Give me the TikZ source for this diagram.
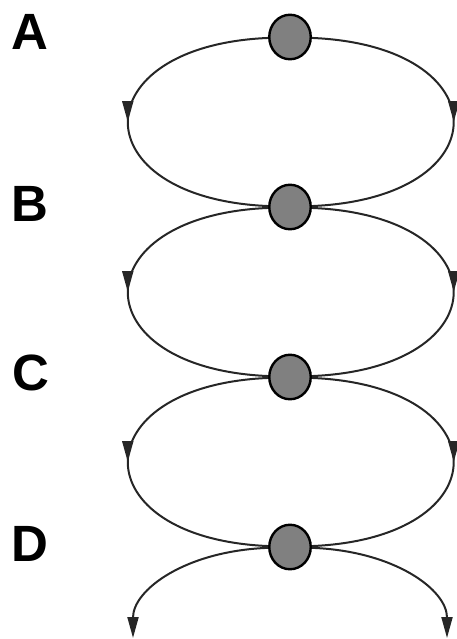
\documentclass[tikz,border=0pt]{standalone}
\usepackage{fontspec}
\setmainfont{Liberation Sans}
\usetikzlibrary{positioning,arrows.meta,shapes.geometric,decorations.markings}

\begin{document}
\begin{tikzpicture}[
    x=1pt, y=-1pt,
    node distance=123.1pt,
    site/.style={ellipse, draw=black, fill=gray, line width=2.4pt, inner sep=0pt,
                 minimum width=41.5pt, minimum height=44.5pt},
    tag/.style={font=\fontsize{51}{60}\selectfont\bfseries, inner sep=0pt},
    link/.style={line width=2pt, draw=black!85},
    midarrow/.style={postaction={decorate}, decoration={markings,
        mark=at position 0.5 with {\arrow{Triangle[length=21pt,width=11pt]}}}},
    tipend/.style={-{Triangle[length=21pt,width=11pt]}},
]
\useasboundingbox (0,0) rectangle (456,639);

% Sites — top to bottom
\node[site] (a) at (290,37) {};
\node[site, below=of a] (b) {};
\node[site, below=of b] (c) {};
\node[site, below=of c] (d) {};

% Letters on the left
\node[tag] (la) at (30,32) {A};
\node[tag] (lb) at (30,204) {B};
\node[tag] (lc) at (31,373) {C};
\node[tag] (ld) at (30,544) {D};

% Loose ends at the bottom
\coordinate (endl) at (133,638);
\coordinate (endr) at (447,638);

% Loops
\draw[link, midarrow] (a) .. controls (81,46) and (81,198) .. (b);
\draw[link, midarrow] (a) .. controls (501,46) and (501,198) .. (b);
\draw[link, midarrow] (b) .. controls (81,216) and (81,368) .. (c);
\draw[link, midarrow] (b) .. controls (501,216) and (501,368) .. (c);
\draw[link, midarrow] (c) .. controls (81,386) and (81,538) .. (d);
\draw[link, midarrow] (c) .. controls (501,386) and (501,538) .. (d);
\draw[link, tipend] (d) .. controls (185,551) and (133,590) .. (endl);
\draw[link, tipend] (d) .. controls (395,551) and (447,590) .. (endr);

\end{tikzpicture}
\end{document}
